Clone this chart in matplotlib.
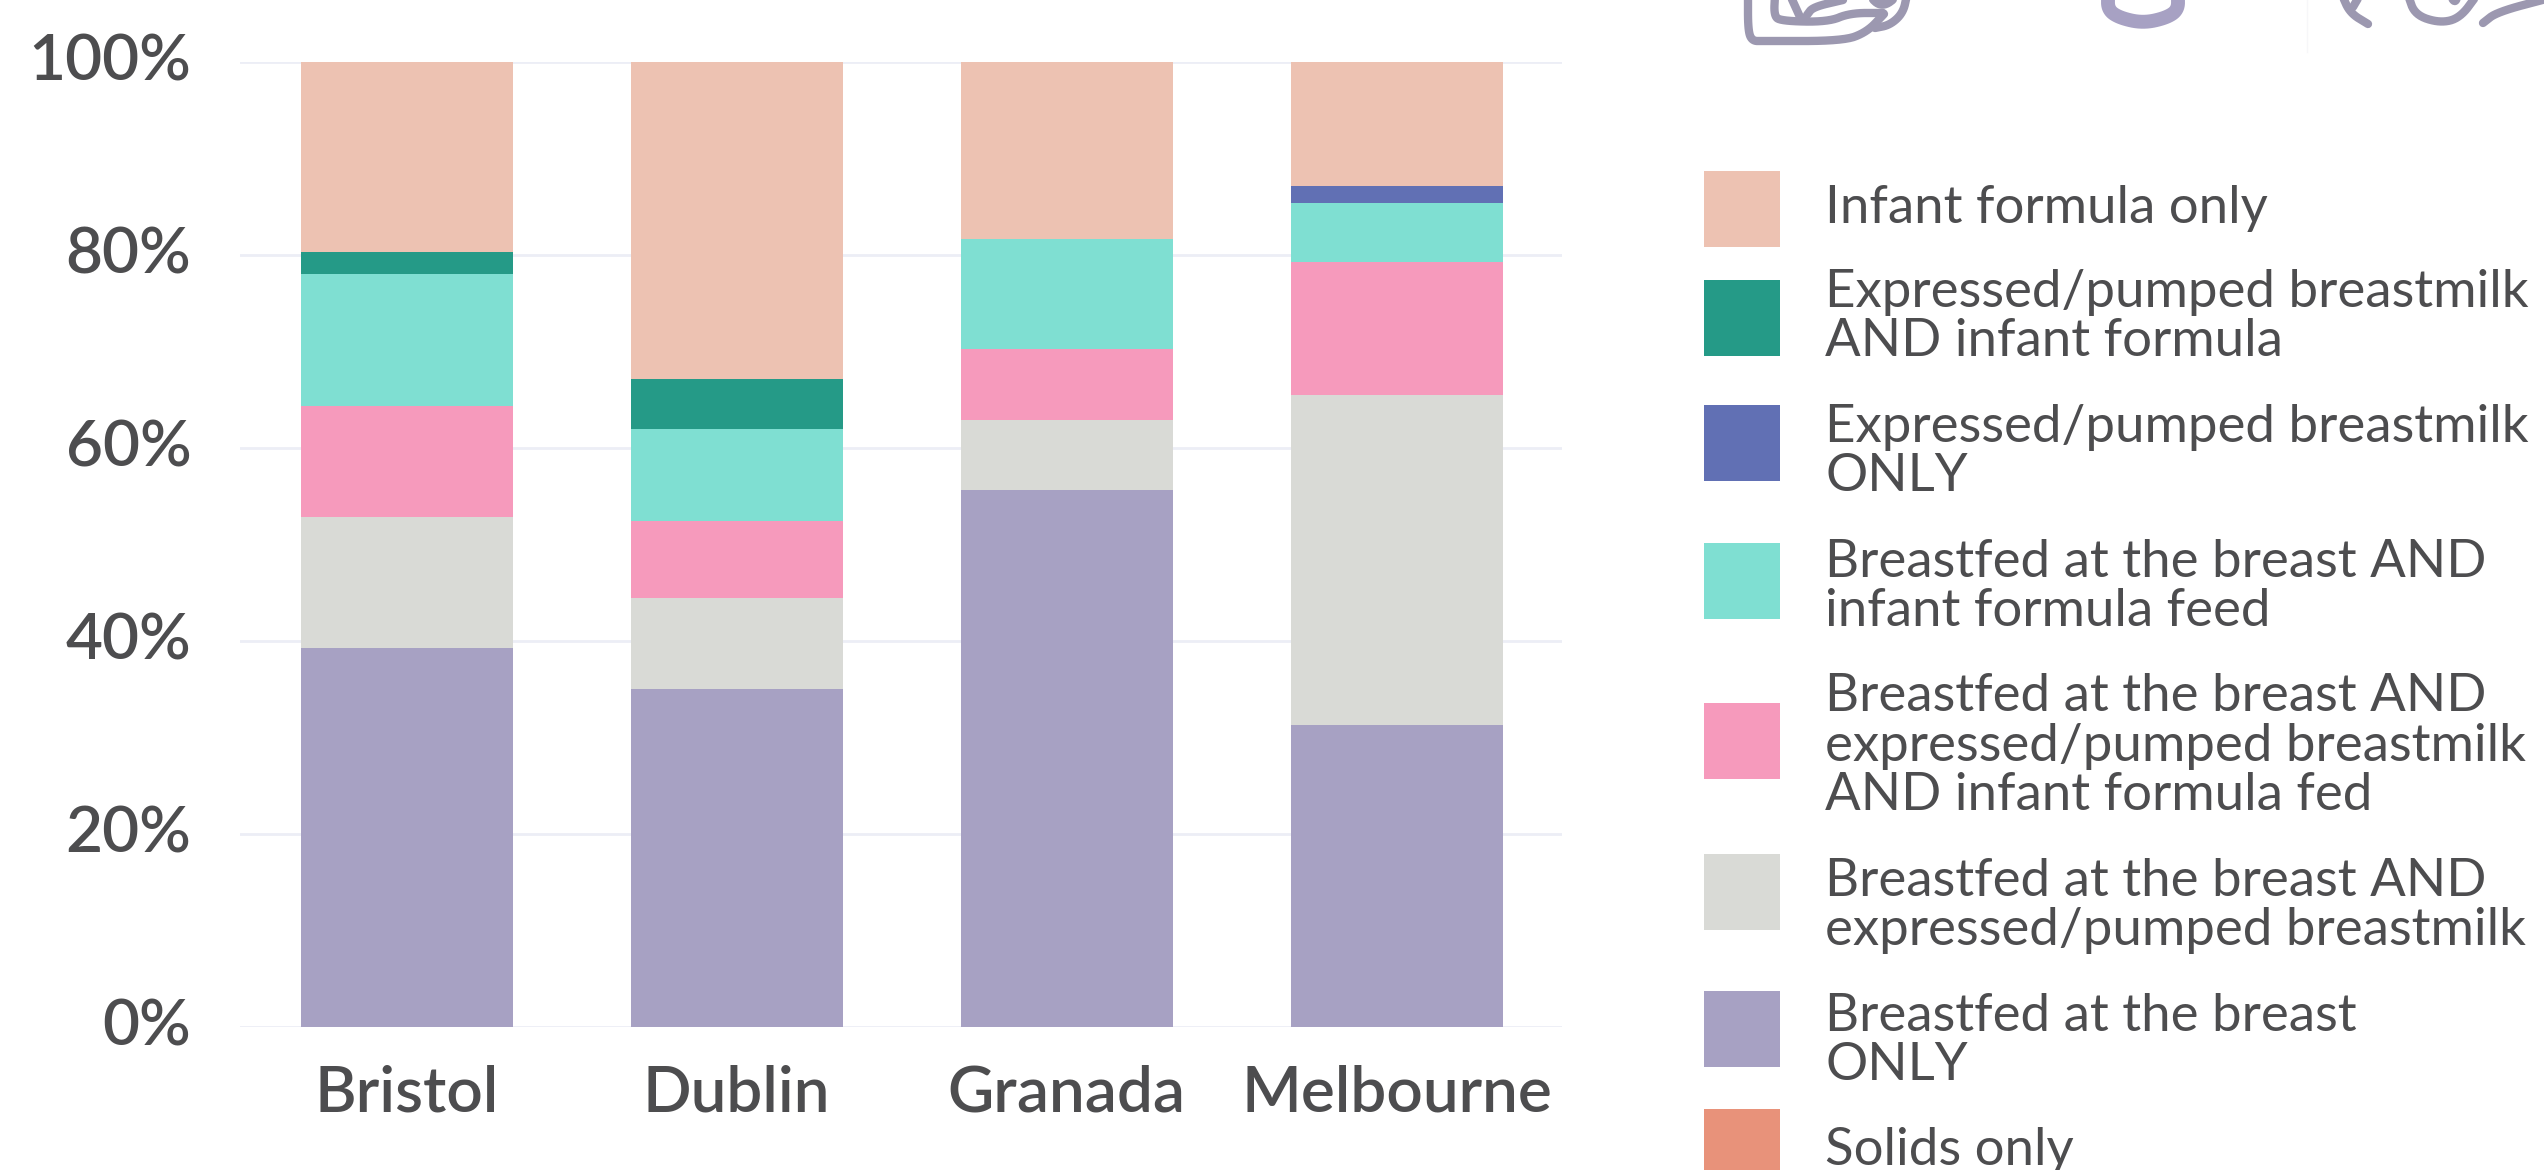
import matplotlib
matplotlib.use("Agg")
import matplotlib.pyplot as plt
from matplotlib.patches import Rectangle
from matplotlib.transforms import ScaledTranslation

W, H = 2544, 1170
TEXT = "#4d4d4f"

cities = ["Bristol", "Dublin", "Granada", "Melbourne"]
yticks = [0, 20, 40, 60, 80, 100]

# bottom to top, % per city
bf_only      = [39.3, 35.0, 55.6, 31.3]
bf_pumped    = [13.6, 9.5, 7.3, 34.2]
bf_pump_form = [11.5, 7.9, 7.4, 13.8]
bf_formula   = [13.6, 9.6, 11.4, 6.1]
pumped_only  = [0, 0, 0, 1.8]
pump_formula = [2.3, 5.1, 0, 0]
formula_only = [19.7, 32.9, 18.3, 12.8]

series = [
    (bf_only, "#a7a1c3"),
    (bf_pumped, "#d9dad6"),
    (bf_pump_form, "#f69abc"),
    (bf_formula, "#7fdfd2"),
    (pumped_only, "#6170b4"),
    (pump_formula, "#259a87"),
    (formula_only, "#edc2b2"),
]

legend_labels = [
    "Infant formula only",
    "Expressed/pumped breastmilk\nAND infant formula",
    "Expressed/pumped breastmilk\nONLY",
    "Breastfed at the breast AND\ninfant formula feed",
    "Breastfed at the breast AND\nexpressed/pumped breastmilk\nAND infant formula fed",
    "Breastfed at the breast AND\nexpressed/pumped breastmilk",
    "Breastfed at the breast\nONLY",
    "Solids only",
]
legend_colors = ["#edc2b2", "#259a87", "#6170b4", "#7fdfd2", "#f69abc", "#d9dad6", "#a7a1c3", "#e8927a"]
legend_tops = [171, 280, 405, 543, 703, 854, 991, 1109]
legend_text_y = [209, 317, 452, 587, 746, 906, 1041, 1150]

plt.rcParams["font.family"] = ["Lato", "DejaVu Sans"]
fig = plt.figure(figsize=(W / 100, H / 100), dpi=100, facecolor="white")

# main chart
ax = fig.add_axes([240 / W, 1 - 1027 / H, (1562 - 240) / W, (1027 - 62) / H])
x = range(len(cities))
bottom = [0, 0, 0, 0]
for vals, col in series:
    ax.bar(x, vals, width=0.643, bottom=bottom, color=col, zorder=3)
    bottom = [b + v for b, v in zip(bottom, vals)]

ax.set_xlim(-0.505, 3.501)
ax.set_ylim(0, 100)
ax.set_yticks(yticks)
ax.set_yticklabels([f"{t}%" for t in yticks], fontsize=46, color=TEXT, fontweight="semibold")
ax.set_xticks(list(x))
ax.set_xticklabels(cities, fontsize=46, color=TEXT, fontweight="semibold")
ax.tick_params(length=0)
ax.tick_params(axis="y", pad=35)
ax.tick_params(axis="x", pad=27)
ax.grid(axis="y", color="#eceef6", lw=2, zorder=0)
for s in ax.spines.values():
    s.set_visible(False)
# y labels sit a little above their gridline
up = ScaledTranslation(0, 5 / 100, fig.dpi_scale_trans)
for lab in ax.get_yticklabels():
    lab.set_transform(lab.get_transform() + up)

# overlay in picture pixels for legend and the cropped pictograms
ov = fig.add_axes([0, 0, 1, 1])
ov.set_xlim(0, W)
ov.set_ylim(H, 0)
ov.axis("off")
ov.patch.set_alpha(0)

for lab, col, top, ty in zip(legend_labels, legend_colors, legend_tops, legend_text_y):
    ov.add_patch(Rectangle((1704, top), 76, 76, color=col, lw=0))
    ov.text(1825, ty, lab, fontsize=38, color=TEXT, va="center", ha="left", linespacing=1.06)


def smooth(pts, n=3):
    # corner cutting, keeps the end points
    for _ in range(n):
        out = [pts[0]]
        for a, b in zip(pts[:-1], pts[1:]):
            out.append((0.75 * a[0] + 0.25 * b[0], 0.75 * a[1] + 0.25 * b[1]))
            out.append((0.25 * a[0] + 0.75 * b[0], 0.25 * a[1] + 0.75 * b[1]))
        out.append(pts[-1])
        pts = out
    return pts


def stroke(pts, col="#9c98b0", lw=6, cap="round"):
    xs, ys = zip(*smooth(pts))
    ov.plot(xs, ys, color=col, lw=lw, solid_capstyle=cap, solid_joinstyle="round")


# cropped icons at top edge
stroke([(1748, -5), (1748, 30), (1752, 41), (1763, 41), (1843, 41), (1867, 32), (1884, 14)])
stroke([(1775, -5), (1774, 15), (1780, 21), (1828, 22), (1850, 13), (1883, 13)])
stroke([(1907, -5), (1903, 13), (1890, 25), (1875, 28)])
stroke([(1790, -5), (1800, 17)])
stroke([(1807, 15), (1813, 7), (1843, 0)])
stroke([(1870, -5), (1882, 6), (1897, -5)], lw=8)
stroke([(2108, -5), (2108, 10), (2120, 18), (2143, 23), (2166, 18), (2178, 10), (2178, -5)], col="#a7a1c3", lw=10, cap="butt")
ov.plot([2307, 2307], [0, 52], color="#f7f7f9", lw=1)
stroke([(2342, -5), (2350, 13), (2368, 24)])
stroke([(2353, 7), (2360, -5)])
stroke([(2408, -5), (2415, 15), (2440, 23), (2460, 18), (2477, -5)])
stroke([(2450, -5), (2455, 3), (2458, -5)])
stroke([(2483, 23), (2497, 12), (2550, -2)])

fig.savefig("out.png", dpi=100)
